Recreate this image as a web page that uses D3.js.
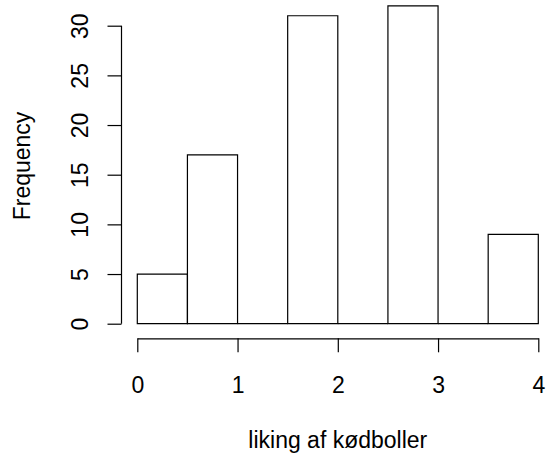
<!DOCTYPE html>
<html>
<head>
<meta charset="utf-8">
<script src="https://cdn.jsdelivr.net/npm/d3@7"></script>
<style>
  html, body { margin: 0; padding: 0; background: #fff; }
  svg { display: block; }
  text { font-family: "Liberation Sans", Arial, Helvetica, sans-serif; fill: #000; }
</style>
</head>
<body>
<svg id="chart" width="549" height="455"></svg>
<script>
// ---- data ----
const binStarts = [0, 0.5, 1, 1.5, 2, 2.5, 3, 3.5];
const binEnds   = [0.5, 1, 1.5, 2, 2.5, 3, 3.5, 4];
const counts    = [5, 17, 0, 31, 0, 32, 0, 9];
const xTicks    = [0, 1, 2, 3, 4];
const yTicks    = [0, 5, 10, 15, 20, 25, 30];
const xLabel    = "liking af kødboller";
const yLabel    = "Frequency";

// ---- layout ----
const fontSize = 23;
const svg = d3.select("#chart");

const x = d3.scaleLinear().domain([0, 4]).range([137.3, 538.3]);
const y = d3.scaleLinear().domain([0, 30]).range([323.7, 25.7]);

const axisY = 338.3;   // x axis line position
const axisX = 121.5;   // y axis line position
const tickLen = 14;

// bars (drawn as closed paths so zero-count bins still show a line)
const bins = counts.map((c, i) => ({ x0: binStarts[i], x1: binEnds[i], n: c }));
svg.append("g").selectAll("path").data(bins).join("path")
  .attr("d", d => {
    const p = d3.path();
    p.moveTo(x(d.x0), y(0));
    p.lineTo(x(d.x0), y(d.n));
    p.lineTo(x(d.x1), y(d.n));
    p.lineTo(x(d.x1), y(0));
    p.closePath();
    return p.toString();
  })
  .attr("fill", "none")
  .attr("stroke", "#000")
  .attr("stroke-width", 1.2);

// x axis
const gx = svg.append("g")
  .attr("transform", `translate(0,${axisY})`)
  .call(d3.axisBottom(x).tickValues(xTicks).tickSize(tickLen).tickSizeOuter(0).tickFormat(d3.format("d")));
gx.select(".domain").attr("stroke", "#000").attr("stroke-width", 1.2);
gx.selectAll(".tick line").attr("stroke", "#000").attr("stroke-width", 1.2);
gx.selectAll(".tick text")
  .attr("y", 393.3 - axisY).attr("dy", 0)
  .attr("font-size", fontSize)
  .style("font-family", "'Liberation Sans', Arial, sans-serif");

// y axis
const gy = svg.append("g")
  .attr("transform", `translate(${axisX},0)`)
  .call(d3.axisLeft(y).tickValues(yTicks).tickSize(tickLen).tickSizeOuter(0).tickFormat(d3.format("d")));
gy.select(".domain")
  .attr("d", `M0,${y(yTicks[0])}V${y(yTicks[yTicks.length - 1])}`)
  .attr("stroke", "#000").attr("stroke-width", 1.2);
gy.selectAll(".tick line").attr("stroke", "#000").attr("stroke-width", 1.2);
gy.selectAll(".tick text")
  .attr("x", 0).attr("y", 0).attr("dy", 0)
  .attr("text-anchor", "middle")
  .attr("transform", `translate(${87.5 - axisX},0) rotate(-90)`)
  .attr("font-size", fontSize)
  .style("font-family", "'Liberation Sans', Arial, sans-serif");

// axis titles
svg.append("text")
  .attr("x", (x(0) + x(4)) / 2)
  .attr("y", 447.7)
  .attr("text-anchor", "middle")
  .attr("font-size", fontSize)
  .text(xLabel);

svg.append("text")
  .attr("transform", `translate(30,166) rotate(-90)`)
  .attr("text-anchor", "middle")
  .attr("font-size", fontSize)
  .text(yLabel);
</script>
</body>
</html>
